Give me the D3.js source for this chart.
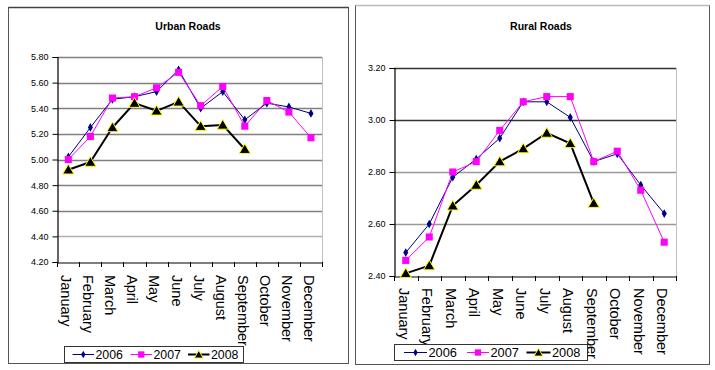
<!DOCTYPE html>
<html>
<head>
<meta charset="utf-8">
<script src="https://cdn.jsdelivr.net/npm/d3@7"></script>
<style>
  html, body { margin: 0; padding: 0; background: #fff; }
  svg { display: block; font-family: "Liberation Sans", Arial, sans-serif; }
</style>
</head>
<body>
<svg id="chart" width="715" height="370"></svg>
<script>
const months = ["January","February","March","April","May","June","July","August","September","October","November","December"];
const seriesNames = ["2006","2007","2008"];

const urbanTitle = "Urban Roads";
const urban2006 = [5.02,5.25,5.47,5.49,5.53,5.70,5.40,5.53,5.31,5.44,5.41,5.36];
const urban2007 = [5.00,5.18,5.48,5.49,5.56,5.68,5.42,5.57,5.26,5.46,5.37,5.17];
const urban2008 = [4.92,4.98,5.25,5.44,5.38,5.45,5.26,5.27,5.08];
const urbanTicks = [4.20,4.40,4.60,4.80,5.00,5.20,5.40,5.60,5.80];

const ruralTitle = "Rural Roads";
const rural2006 = [2.49,2.60,2.78,2.85,2.93,3.07,3.07,3.01,2.84,2.87,2.75,2.64];
const rural2007 = [2.46,2.55,2.80,2.84,2.96,3.07,3.09,3.09,2.84,2.88,2.73,2.53];
const rural2008 = [2.41,2.44,2.67,2.75,2.84,2.89,2.95,2.91,2.68];
const ruralTicks = [2.40,2.60,2.80,3.00,3.20];

const svg = d3.select("#chart");

const styles = [
  {color:"#000080", width:1, symbol:d3.symbolDiamond, size:22, fill:"#000080", stroke:"none", lsize:16},
  {color:"#ff00ff", width:1, symbol:d3.symbolSquare, size:50, fill:"#ff00ff", stroke:"none", lsize:40},
  {color:"#000000", width:2, symbol:d3.symbolTriangle, size:54, fill:"#000000", stroke:"#ffff00", lsize:34}
];

function drawChart(cfg) {
  const g = svg.append("g");
  // outer frame
  g.append("rect")
    .attr("x", cfg.frame[0]).attr("y", cfg.frame[1])
    .attr("width", cfg.frame[2] - cfg.frame[0]).attr("height", cfg.frame[3] - cfg.frame[1])
    .attr("fill", "#fff").attr("stroke", "#555").attr("stroke-width", 1);
  g.append("line")
    .attr("x1", cfg.frame[0]).attr("x2", cfg.frame[2])
    .attr("y1", cfg.frame[1]).attr("y2", cfg.frame[1])
    .attr("stroke", cfg.topFrameColor).attr("stroke-width", 1.5);

  const [px0, py0, px1, py1] = cfg.plot;
  const x = d3.scaleBand().domain(months).range([px0, px1]).padding(0);
  const y = d3.scaleLinear().domain(cfg.domain).range([py1, py0]);

  // title
  g.append("text")
    .attr("x", cfg.titleX).attr("y", 30)
    .attr("text-anchor", "middle")
    .attr("font-size", "10.5px").attr("font-weight", "bold")
    .text(cfg.title);

  // gridlines
  g.append("g").selectAll("line")
    .data(cfg.ticks.slice(1))
    .join("line")
    .attr("x1", px0).attr("x2", px1)
    .attr("y1", d => Math.round(y(d)) + 0.5).attr("y2", d => Math.round(y(d)) + 0.5)
    .attr("stroke", d => cfg.gridColor(d)).attr("stroke-width", 1.3);

  // right border of plot
  g.append("line")
    .attr("x1", px1 + 0.5).attr("x2", px1 + 0.5)
    .attr("y1", py0).attr("y2", py1)
    .attr("stroke", "#c0c0c0").attr("stroke-width", 1);

  // y axis
  const yAxis = d3.axisLeft(y).tickValues(cfg.ticks).tickFormat(d3.format(".2f")).tickSize(5).tickPadding(4);
  const ya = g.append("g").attr("transform", `translate(${Math.round(px0) + 0.5},0)`).call(yAxis);
  ya.select(".domain").attr("stroke", "#000").attr("stroke-width", 1.2);
  ya.selectAll(".tick line").attr("stroke", "#000");
  ya.selectAll(".tick text").attr("font-size", "9px").attr("fill", "#000")
    .attr("font-family", "'Liberation Sans', Arial, sans-serif");

  // x axis
  const xAxis = d3.axisBottom(x).tickSize(0).tickFormat("");
  const xa = g.append("g").attr("transform", `translate(0,${Math.round(py1) + 0.5})`).call(xAxis);
  xa.select(".domain").attr("stroke", "#000").attr("stroke-width", 1.2);
  xa.selectAll(".tick").remove();
  // tick marks at band boundaries
  const boundaries = months.map(m => x(m)).concat([px1]);
  g.append("g").selectAll("line")
    .data(boundaries)
    .join("line")
    .attr("x1", d => Math.round(d) + 0.5).attr("x2", d => Math.round(d) + 0.5)
    .attr("y1", py1).attr("y2", py1 + 5)
    .attr("stroke", "#000").attr("stroke-width", 1);

  // month labels
  g.append("g").selectAll("text")
    .data(months)
    .join("text")
    .attr("transform", d => `translate(${x(d) + x.bandwidth() / 2 - 2},${cfg.labelY}) rotate(90)`)
    .attr("dy", "0.35em")
    .attr("font-size", "14.5px")
    .attr("fill", "#000")
    .text(d => d);

  // series
  const series = cfg.series;
  series.forEach((vals, i) => {
    const st = styles[i];
    const pts = vals.map((v, j) => [x(months[j]) + x.bandwidth() / 2, y(v)]);
    g.append("path")
      .attr("d", d3.line()(pts))
      .attr("fill", "none").attr("stroke", st.color).attr("stroke-width", st.width)
      .attr("stroke-linejoin", "round");
  });
  series.forEach((vals, i) => {
    const st = styles[i];
    g.append("g").selectAll("path")
      .data(vals)
      .join("path")
      .attr("transform", (v, j) => `translate(${x(months[j]) + x.bandwidth() / 2},${y(v) + (i === 2 ? 1 : 0)})`)
      .attr("d", d3.symbol().type(st.symbol).size(st.size))
      .attr("fill", st.fill).attr("stroke", st.stroke).attr("stroke-width", 1);
  });

  // legend
  const [lx0, ly0, lx1, ly1] = cfg.legendBox;
  g.append("rect")
    .attr("x", lx0 + 0.5).attr("y", ly0 + 0.5)
    .attr("width", lx1 - lx0).attr("height", ly1 - ly0)
    .attr("fill", "#fff").attr("stroke", "#333").attr("stroke-width", 1);
  const cy = (ly0 + ly1) / 2 + 0.5;
  seriesNames.forEach((name, i) => {
    const st = styles[i];
    const [a, b] = cfg.legendLines[i];
    g.append("line")
      .attr("x1", a).attr("x2", b).attr("y1", cy).attr("y2", cy)
      .attr("stroke", st.color).attr("stroke-width", st.width);
    g.append("path")
      .attr("transform", `translate(${(a + b) / 2},${cy + (i === 2 ? 1 : 0)})`)
      .attr("d", d3.symbol().type(st.symbol).size(st.lsize))
      .attr("fill", st.fill).attr("stroke", st.stroke).attr("stroke-width", 1);
    g.append("text")
      .attr("x", b + 1.5).attr("y", cy)
      .attr("dy", "0.36em")
      .attr("font-size", cfg.legendFont)
      .attr("fill", "#000")
      .text(name);
  });
}

drawChart({
  title: urbanTitle,
  titleX: 188,
  frame: [8.5, 7.5, 348.5, 363.5],
  topFrameColor: "#444",
  plot: [57.3, 57, 322, 262],
  domain: [4.2, 5.8],
  ticks: urbanTicks,
  gridColor: d => (Math.abs(d - 4.4) < 1e-6 ? "#b0b0b0" : "#808080"),
  labelY: 275,
  series: [urban2006, urban2007, urban2008],
  legendBox: [64, 346, 243, 362],
  legendLines: [[72.5, 94], [130.5, 152], [188, 209.5]],
  legendFont: "12.3px"
});

drawChart({
  title: ruralTitle,
  titleX: 541,
  frame: [355.5, 5.5, 709.5, 364.5],
  topFrameColor: "#bbb",
  plot: [394, 68, 676, 276],
  domain: [2.4, 3.2],
  ticks: ruralTicks,
  gridColor: d => (Math.abs(d - 3.0) < 1e-6 || Math.abs(d - 3.2) < 1e-6 ? "#333" : "#999"),
  labelY: 288,
  series: [rural2006, rural2007, rural2008],
  legendBox: [394, 344, 587, 360],
  legendLines: [[404, 427], [467, 489], [526.5, 550.5]],
  legendFont: "12.8px"
});
</script>
</body>
</html>
